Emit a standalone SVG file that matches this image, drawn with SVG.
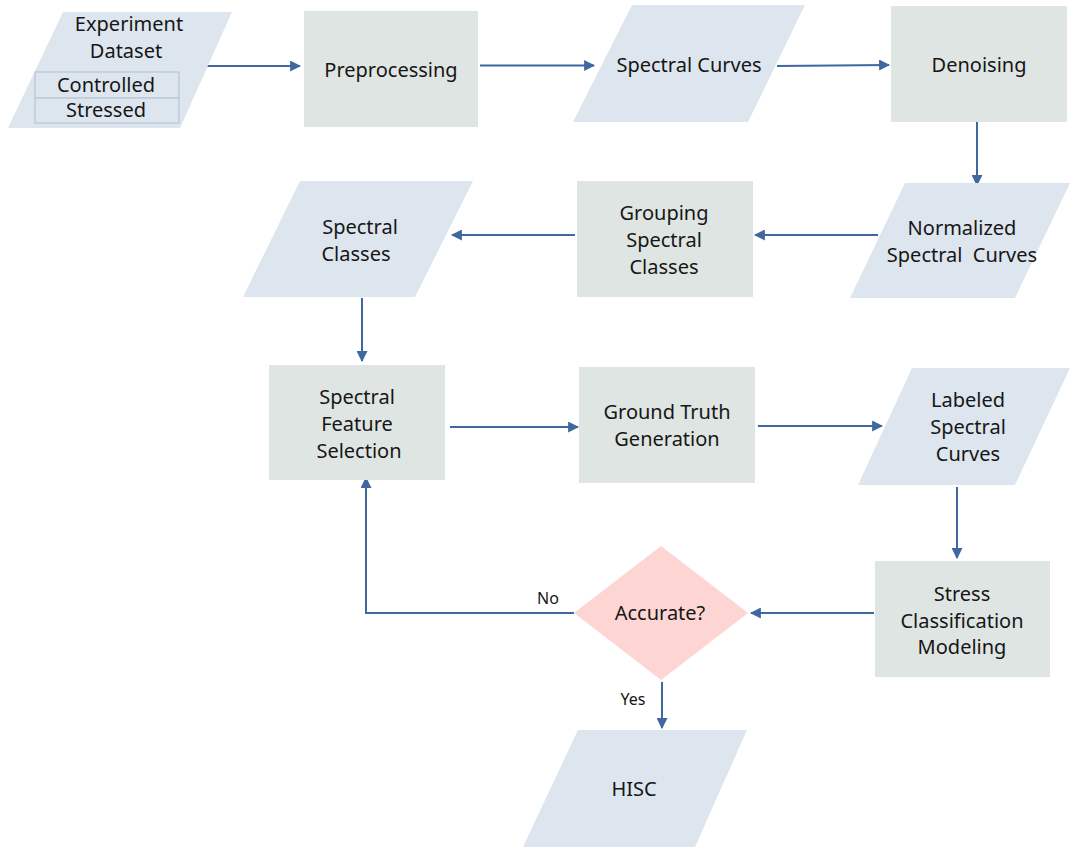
<svg xmlns="http://www.w3.org/2000/svg" width="1070" height="848" viewBox="0 0 1070 848">
  <style>
    .data { fill: #dde5ee; }
    .proc { fill: #dfe5e2; }
    .dec { fill: #fdd6d4; }
    .sub { fill: #dde5ee; stroke: #b7c7d6; stroke-width: 1.2; }
    text { font-family: "Noto Sans", "Open Sans", "Liberation Sans", sans-serif; font-size: 20px; fill: #161616; text-anchor: middle; }
    .small { font-size: 16px; }
    .edge { fill: none; stroke: #3f67a0; stroke-width: 2; marker-end: url(#arrow); }
  </style>
  <defs>
    <marker id="arrow" viewBox="0 0 10 10" refX="9" refY="5" markerWidth="5.5" markerHeight="5.5" orient="auto" markerUnits="strokeWidth">
      <path d="M0,0 L10,5 L0,10 z" fill="#3f67a0"/>
    </marker>
  </defs>

  <!-- connectors -->
  <g id="connectors">
    <path class="edge" d="M207,66 H300"/>
    <path class="edge" d="M480,65.5 H594"/>
    <path class="edge" d="M777,66 L889,65"/>
    <path class="edge" d="M977,122 V185"/>
    <path class="edge" d="M878,235 H755"/>
    <path class="edge" d="M575,235 H452"/>
    <path class="edge" d="M362,298 V361"/>
    <path class="edge" d="M450,427 H578"/>
    <path class="edge" d="M758,426 H882"/>
    <path class="edge" d="M957,487 V558"/>
    <path class="edge" d="M874,613 H751"/>
    <path class="edge" d="M574,613 H366 V478"/>
    <path class="edge" d="M662,682 V728"/>
    <text class="small" x="548" y="604">No</text>
    <text class="small" x="633" y="705">Yes</text>
  </g>

  <g id="experiment-dataset">
    <polygon class="data" points="63,12 232,12 180,128 8,128"/>
    <text x="129" y="31">Experiment</text>
    <text x="126" y="58">Dataset</text>
    <rect class="sub" x="35" y="72" width="144" height="26"/>
    <rect class="sub" x="35" y="98" width="144" height="25"/>
    <text x="106" y="92">Controlled</text>
    <text x="106" y="117">Stressed</text>
  </g>

  <g id="preprocessing">
    <rect class="proc" x="304" y="11" width="174" height="116"/>
    <text x="391" y="77">Preprocessing</text>
  </g>

  <g id="spectral-curves">
    <polygon class="data" points="632,5 805,5 748,122 573,122"/>
    <text x="689" y="72">Spectral Curves</text>
  </g>

  <g id="denoising">
    <rect class="proc" x="891" y="6" width="176" height="116"/>
    <text x="979" y="72">Denoising</text>
  </g>

  <g id="normalized-spectral-curves">
    <polygon class="data" points="905,183 1070,183 1015,298 850,298"/>
    <text x="962" y="235">Normalized</text>
    <text x="962" y="262" xml:space="preserve">Spectral  Curves</text>
  </g>

  <g id="grouping-spectral-classes">
    <rect class="proc" x="577" y="181" width="176" height="116"/>
    <text x="664" y="220">Grouping</text>
    <text x="664" y="247">Spectral</text>
    <text x="664" y="274">Classes</text>
  </g>

  <g id="spectral-classes">
    <polygon class="data" points="300,181 473,181 415,297 243,297"/>
    <text x="360" y="234">Spectral</text>
    <text x="356" y="261">Classes</text>
  </g>

  <g id="spectral-feature-selection">
    <rect class="proc" x="269" y="365" width="176" height="115"/>
    <text x="357" y="404">Spectral</text>
    <text x="357" y="431">Feature</text>
    <text x="359" y="458">Selection</text>
  </g>

  <g id="ground-truth-generation">
    <rect class="proc" x="579" y="367" width="176" height="116"/>
    <text x="667" y="419">Ground Truth</text>
    <text x="667" y="446">Generation</text>
  </g>

  <g id="labeled-spectral-curves">
    <polygon class="data" points="912,368 1070,368 1015,485 858,485"/>
    <text x="968" y="407">Labeled</text>
    <text x="968" y="434">Spectral</text>
    <text x="968" y="461">Curves</text>
  </g>

  <g id="stress-classification-modeling">
    <rect class="proc" x="875" y="561" width="175" height="116"/>
    <text x="962" y="601">Stress</text>
    <text x="962" y="628">Classification</text>
    <text x="962" y="654">Modeling</text>
  </g>

  <g id="accurate">
    <polygon class="dec" points="661,546 748,613 661,680 574,613"/>
    <text x="660" y="620">Accurate?</text>
  </g>

  <g id="hisc">
    <polygon class="data" points="578,730 747,730 695,847 523,847"/>
    <text x="634" y="796">HISC</text>
  </g>
</svg>
